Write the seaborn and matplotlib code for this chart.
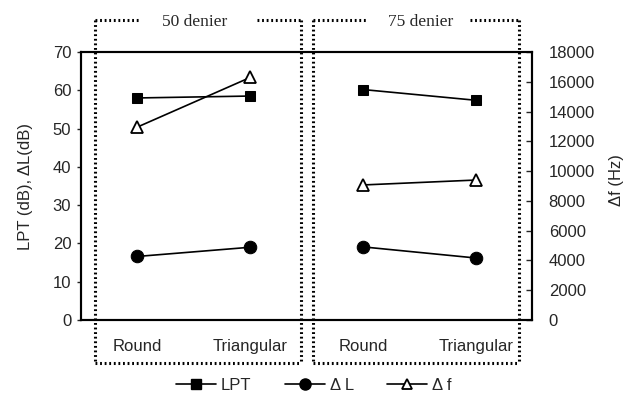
import matplotlib
matplotlib.use("Agg")
import matplotlib.pyplot as plt
import seaborn as sns
import pandas as pd
from matplotlib.lines import Line2D

# ---- data ----
categories = ["Round", "Triangular", "Round", "Triangular"]
groups = ["50 denier", "50 denier", "75 denier", "75 denier"]
lpt_db = [58.0, 58.5, 60.2, 57.4]
delta_l_db = [16.6, 19.0, 19.1, 16.2]
delta_f_hz = [12960, 16290, 9070, 9400]

xpos = list(range(len(categories)))
data = pd.DataFrame({"x": xpos, "group": groups, "cat": categories,
                     "LPT": lpt_db, "dL": delta_l_db, "df": delta_f_hz})

sns.set_style("white")
plt.rcParams["font.family"] = ["Liberation Sans", "DejaVu Sans"]

fig = plt.figure(figsize=(6.27, 3.98), dpi=100)
ax = fig.add_axes([0.1292, 0.196, 0.7193, 0.6733])
ax2 = ax.twinx()

lw = 1.2
sns.lineplot(data=data, x="x", y="LPT", units="group", estimator=None, ax=ax,
             color="black", lw=lw, marker="s", markersize=7.5,
             markeredgecolor="black", markerfacecolor="black")
sns.lineplot(data=data, x="x", y="dL", units="group", estimator=None, ax=ax,
             color="black", lw=lw, marker="o", markersize=9,
             markeredgecolor="black", markerfacecolor="black")
sns.lineplot(data=data, x="x", y="df", units="group", estimator=None, ax=ax2,
             color="black", lw=lw, marker="^", markersize=8.5,
             markeredgecolor="black", markerfacecolor="white", markeredgewidth=1.3)

ax.set_xlim(-0.5, 3.5)
ax.set_ylim(0, 70)
ax2.set_ylim(0, 18000)
ax.set_yticks(range(0, 71, 10))
ax2.set_yticks(range(0, 18001, 2000))
ax.set_xticks(xpos)
ax.set_xticklabels(categories, fontsize=12)
ax.set_xticks([0.5, 1.5, 2.5], minor=True)
ax.tick_params(axis="x", which="major", length=0, pad=14)
ax.tick_params(axis="x", which="minor", length=3, direction="in", width=1)
ax.tick_params(axis="y", length=3, direction="out", width=1, labelsize=12, pad=4)
ax2.tick_params(axis="y", length=4, direction="in", width=1, labelsize=12, pad=12)
ax.set_xlabel("")
ax.set_ylabel("LPT (dB), \u0394L(dB)", fontsize=12, labelpad=14)
ax2.set_ylabel("")
fig.text(617 / 627, 1 - 180 / 398, "\u0394f (Hz)", rotation=90, ha="center", va="center",
         fontsize=12)
for a in (ax, ax2):
    for s in a.spines.values():
        s.set_color("black")
        s.set_linewidth(1.5)

# dotted group boxes (top edge broken around the title)
W, H = 627.0, 398.0
dotkw = dict(color="black", linewidth=2.2, linestyle=(0, (0.6, 0.9)),
             transform=fig.transFigure, clip_on=False)
boxes = [(95, 301, 140, 257), (313, 519, 368, 470)]
top, bot = 20, 363
def fx(p):
    return p / W
def fy(p):
    return 1 - p / H
for (x0, x1, g0, g1) in boxes:
    segs = [((x0, x0), (top, bot)), ((x1, x1), (top, bot)), ((x0, x1), (bot, bot)),
            ((x0, g0), (top, top)), ((g1, x1), (top, top))]
    for xs, ys in segs:
        fig.add_artist(Line2D([fx(v) for v in xs], [fy(v) for v in ys], **dotkw))

for gname, xc in [("50 denier", 195), ("75 denier", 421)]:
    fig.text(xc / W, 1 - 22 / H, gname, ha="center", va="center",
             family=["Liberation Serif", "DejaVu Serif"], fontsize=12.5)

handles = [
    Line2D([], [], color="black", lw=lw, marker="s", markersize=7, markerfacecolor="black"),
    Line2D([], [], color="black", lw=lw, marker="o", markersize=8, markerfacecolor="black"),
    Line2D([], [], color="black", lw=lw, marker="^", markersize=7.5,
           markerfacecolor="white", markeredgewidth=1.3),
]
fig.legend(handles, ["LPT", "\u0394 L", "\u0394 f"], loc="center",
           bbox_to_anchor=(314 / W, 1 - 385 / H), ncol=3, frameon=False,
           fontsize=12, handlelength=2.4, handletextpad=0.3, columnspacing=2.0)

fig.savefig("out.png", dpi=100)
